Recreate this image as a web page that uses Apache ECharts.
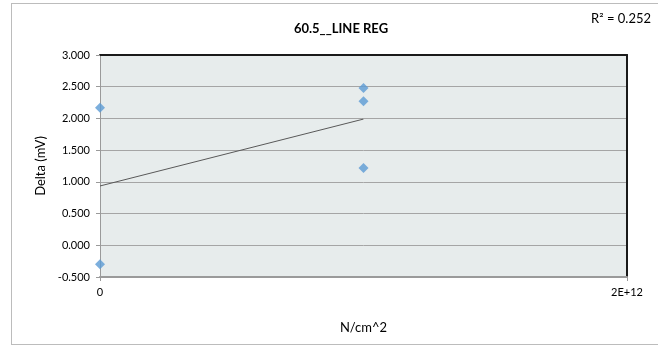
<!DOCTYPE html>
<html>
<head>
<meta charset="utf-8">
<script src="https://cdn.jsdelivr.net/npm/echarts@6/dist/echarts.min.js"></script>
<style>
  html, body { margin: 0; padding: 0; background: #ffffff; }
  .frame {
    position: absolute; left: 11px; top: 3px; width: 660px; height: 340px;
    border: 1px solid #bcbcbc;
  }
  #chart { position: absolute; left: 0; top: 0; width: 658px; height: 346px; }
</style>
</head>
<body>
<div class="frame"></div>
<div id="chart"></div>
<script>
// data
const xValues = [0, 0, 1e12, 1e12, 1e12];
const yValues = [2.17, -0.30, 2.48, 2.27, 1.22];
const yTicks = { min: -0.5, max: 3, step: 0.5 };
const xTicks = { min: 0, max: 2e12, step: 2e12 };
const titleText = '60.5__LINE REG';
const r2Text = 'R² = 0.252';

// least squares trendline, drawn over the data range
const n = xValues.length;
const mx = xValues.reduce((a, b) => a + b, 0) / n;
const my = yValues.reduce((a, b) => a + b, 0) / n;
let sxy = 0, sxx = 0;
for (let i = 0; i < n; i++) {
  sxy += (xValues[i] - mx) * (yValues[i] - my);
  sxx += (xValues[i] - mx) * (xValues[i] - mx);
}
const slope = sxy / sxx;
const intercept = my - slope * mx;
const xLo = Math.min(...xValues), xHi = Math.max(...xValues);
const trend = [[xLo, intercept + slope * xLo], [xHi, intercept + slope * xHi]];

const font = 'Lato';
const chart = echarts.init(document.getElementById('chart'));
const option = {
  backgroundColor: 'transparent',
  animation: false,
  textStyle: { fontFamily: font },
  title: [
    {
      text: titleText, left: 336, top: 17, textAlign: 'center',
      textStyle: { fontFamily: font, fontSize: 13, fontWeight: 'bold', color: '#000' }
    },
    {
      text: r2Text, right: 2, top: 7,
      textStyle: { fontFamily: font, fontSize: 13, fontWeight: 'normal', color: '#000' }
    }
  ],
  grid: {
    left: 100, right: 31, top: 55, bottom: 69,
    show: true, backgroundColor: '#e7ecec', borderWidth: 0
  },
  xAxis: [
    {
      type: 'value', min: xTicks.min, max: xTicks.max, interval: xTicks.step,
      name: 'N/cm^2', nameLocation: 'middle', nameGap: 44,
      nameTextStyle: { fontFamily: font, fontSize: 13, color: '#000' },
      axisLine: { onZero: false, lineStyle: { color: '#9a9a9a', width: 2 } },
      axisTick: { show: true, length: 4, lineStyle: { color: '#9a9a9a' } },
      axisLabel: {
        margin: 10, fontSize: 11, color: '#000', fontFamily: font,
        formatter: v => v === 0 ? '0' : (v / 1e12) + 'E+12'
      },
      splitLine: { show: false }
    },
    {
      type: 'value', position: 'top', min: xTicks.min, max: xTicks.max,
      axisLine: { show: true, onZero: false, lineStyle: { color: '#1a1a1a', width: 2 } },
      axisTick: { show: false }, axisLabel: { show: false }, splitLine: { show: false }
    }
  ],
  yAxis: [
    {
      type: 'value', min: yTicks.min, max: yTicks.max, interval: yTicks.step,
      name: 'Delta (mV)', nameLocation: 'middle', nameGap: 50,
      nameTextStyle: { fontFamily: font, fontSize: 13, color: '#000' },
      axisLine: { show: true, onZero: false, lineStyle: { color: '#9a9a9a', width: 1 } },
      axisTick: { show: true, length: 4, lineStyle: { color: '#9a9a9a' } },
      axisLabel: {
        margin: 10, fontSize: 11, color: '#000', fontFamily: font,
        formatter: v => v.toFixed(3)
      },
      splitLine: { show: true, lineStyle: { color: '#a5a5a5', width: 1 } }
    },
    {
      type: 'value', position: 'right', min: yTicks.min, max: yTicks.max,
      axisLine: { show: true, onZero: false, lineStyle: { color: '#1a1a1a', width: 2 } },
      axisTick: { show: false }, axisLabel: { show: false }, splitLine: { show: false }
    }
  ],
  series: [
    {
      type: 'line', data: trend, symbol: 'none', silent: true,
      lineStyle: { color: '#595959', width: 1 }, z: 2
    },
    {
      type: 'scatter', data: xValues.map((x, i) => [x, yValues[i]]),
      symbol: 'diamond', symbolSize: 10,
      itemStyle: { color: '#5b9bd5' }, z: 3
    }
  ]
};
chart.setOption(option);
</script>
</body>
</html>
